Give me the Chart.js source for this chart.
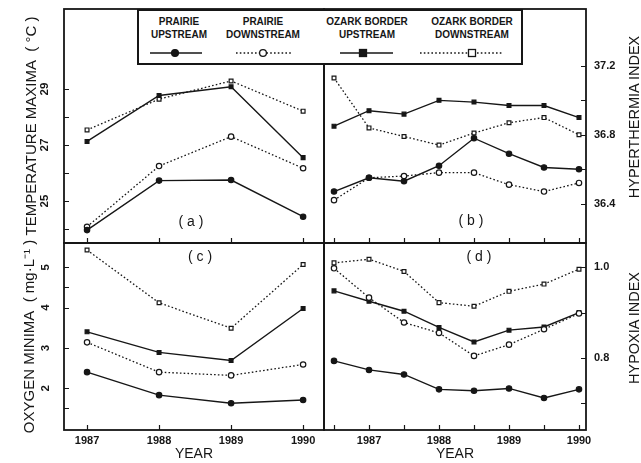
<!DOCTYPE html>
<html>
<head>
<meta charset="utf-8">
<script src="https://cdn.jsdelivr.net/npm/chart.js@4.4.1/dist/chart.umd.min.js"></script>
<style>
  body { margin: 0; background: #fff; }
  #fig { position: relative; width: 641px; height: 463px; overflow: hidden;
         font-family: "Liberation Sans", Arial, sans-serif; color: #161616; }
  #fig canvas { position: absolute; }
  .tag { position: absolute; font-size: 14px; white-space: nowrap; transform: translate(-50%, -50%); }
  .rtitle { position: absolute; font-size: 14.5px; white-space: nowrap;
            transform: translate(-50%, -50%) rotate(-90deg); }
  #legend { position: absolute; left: 137px; top: 9px; width: 386px; height: 56px; box-sizing: border-box;
            border: 2px solid #161616; background: #fff; z-index: 2; }
  #legend .name { position: absolute; font-size: 10px; font-weight: bold; line-height: 13px;
                  text-align: center; white-space: nowrap; transform: translateX(-50%); }
  #legend svg { position: absolute; left: -2px; top: -2px; }
</style>
</head>
<body>
<div id="fig">
  <canvas id="chart-a" width="330" height="250" style="left:0;top:0"></canvas>
  <canvas id="chart-b" width="323" height="250" style="left:318px;top:0"></canvas>
  <canvas id="chart-c" width="330" height="226" style="left:0;top:237px"></canvas>
  <canvas id="chart-d" width="323" height="226" style="left:318px;top:237px"></canvas>
  <div id="legend"></div>
  <div class="tag" style="left:191px;top:221px">( a )</div>
  <div class="tag" style="left:471px;top:220px">( b )</div>
  <div class="tag" style="left:200px;top:256px">( c )</div>
  <div class="tag" style="left:479px;top:256px">( d )</div>
  <div class="rtitle" style="left:634px;top:117px">HYPERTHERMIA INDEX</div>
  <div class="rtitle" style="left:634px;top:328px">HYPOXIA INDEX</div>
</div>
<script>
// Stream temperature / oxygen figure - 4 panels drawn as 4 small charts

const INK = '#161616';
const FONT = '"Liberation Sans", Arial, sans-serif';

const yearsAnnual = [1987, 1988, 1989, 1990];
const yearsHalf = [1986.5, 1987, 1987.5, 1988, 1988.5, 1989, 1989.5, 1990];
const yearLabels = [1987, 1988, 1989, 1990];

// (a) temperature maxima, deg C
const tempPrairieUp = [23.96, 25.73, 25.75, 24.44];
const tempPrairieDown = [24.08, 26.25, 27.30, 26.17];
const tempOzarkUp = [27.13, 28.77, 29.08, 26.55];
const tempOzarkDown = [27.54, 28.64, 29.29, 28.21];

// (b) hyperthermia index
const hyperPrairieUp = [36.47, 36.55, 36.53, 36.62, 36.78, 36.69, 36.61, 36.60];
const hyperPrairieDown = [36.42, 36.55, 36.56, 36.58, 36.58, 36.51, 36.47, 36.52];
const hyperOzarkUp = [36.85, 36.94, 36.92, 37.00, 36.99, 36.97, 36.97, 36.90];
const hyperOzarkDown = [37.13, 36.84, 36.79, 36.74, 36.81, 36.87, 36.90, 36.80];

// (c) oxygen minima, mg/L
const oxyPrairieUp = [2.40, 1.83, 1.63, 1.71];
const oxyPrairieDown = [3.14, 2.40, 2.32, 2.59];
const oxyOzarkUp = [3.40, 2.89, 2.69, 3.98];
const oxyOzarkDown = [5.43, 4.12, 3.49, 5.07];

// (d) hypoxia index
const hypoPrairieUp = [0.793, 0.773, 0.763, 0.730, 0.727, 0.732, 0.711, 0.730];
const hypoPrairieDown = [0.998, 0.933, 0.878, 0.855, 0.804, 0.829, 0.863, 0.898];
const hypoOzarkUp = [0.948, 0.925, 0.903, 0.867, 0.835, 0.861, 0.868, 0.900];
const hypoOzarkDown = [1.010, 1.018, 0.991, 0.922, 0.914, 0.947, 0.963, 0.996];

// axis ticks (marks) and the ones that carry a label
const tempTicks = [24, 25, 26, 27, 28, 29];
const tempLabels = [25, 27, 29];
const hyperTicks = [36.4, 36.6, 36.8, 37.0, 37.2];
const hyperLabels = [36.4, 36.8, 37.2];
const oxyTicks = [1.5, 2, 3, 4, 4.5, 5];
const oxyLabels = [2, 3, 4, 5];
const hypoTicks = [0.7, 0.8, 0.9, 1.0];
const hypoLabels = [0.8, 1.0];

const seriesNames = ['PRAIRIE UPSTREAM', 'PRAIRIE DOWNSTREAM', 'OZARK BORDER UPSTREAM', 'OZARK BORDER DOWNSTREAM'];
const seriesLines = [
    { dotted: false, square: false, open: false },
    { dotted: true,  square: false, open: true },
    { dotted: false, square: true,  open: false },
    { dotted: true,  square: true,  open: true }
];

// frame, inward tick marks, and the sideways labels of the left axes
const framePlugin = {
    id: 'frame',
    afterDraw(chart, args, o) {
        const { ctx, chartArea: a, scales } = chart;
        const ys = scales.y;
        ctx.save();
        ctx.strokeStyle = INK;
        ctx.lineWidth = 1.8;
        ctx.strokeRect(a.left, a.top, a.right - a.left, a.bottom - a.top);
        ctx.lineWidth = 1.2;
        ctx.beginPath();
        o.xTicks.forEach(v => {
            const px = Math.round(scales.x.getPixelForValue(v)) + 0.5;
            ctx.moveTo(px, a.bottom);
            ctx.lineTo(px, a.bottom - 5);
        });
        const edge = ys.position === 'right' ? a.right : a.left;
        const dir = ys.position === 'right' ? -1 : 1;
        ys.ticks.forEach(t => {
            const py = Math.round(ys.getPixelForValue(t.value)) + 0.5;
            ctx.moveTo(edge, py);
            ctx.lineTo(edge + dir * 5, py);
        });
        ctx.stroke();

        if (o.sideLabels) {
            ctx.fillStyle = INK;
            ctx.font = 'bold 11.5px ' + FONT;
            ctx.textAlign = 'center';
            ctx.textBaseline = 'middle';
            o.sideLabels.forEach(v => {
                ctx.save();
                ctx.translate(o.labelX, ys.getPixelForValue(v));
                ctx.rotate(-Math.PI / 2);
                ctx.fillText(String(v), 0, 0);
                ctx.restore();
            });
        }
        ctx.restore();
    }
};

function makeDatasets(xs, cols) {
    return cols.map((ys, i) => {
        const s = seriesLines[i];
        return {
            label: seriesNames[i],
            data: xs.map((x, j) => ({ x, y: ys[j] })),
            borderColor: INK,
            borderWidth: s.dotted ? 1.3 : 1.4,
            borderDash: s.dotted ? [1.6, 2.2] : [],
            pointStyle: s.square ? 'rect' : 'circle',
            pointRadius: 2.7,
            pointBackgroundColor: s.open ? '#fff' : INK,
            pointBorderColor: INK,
            pointBorderWidth: 1.2,
            tension: 0,
            clip: false
        };
    });
}

function tickSetter(vals) {
    return scale => { scale.ticks = vals.map(v => ({ value: v })); };
}

function makePanel(id, p) {
    const tickFont = { family: FONT, size: 11, weight: 'bold' };
    const left = p.yPos === 'left';
    const fmt = p.fmt || (v => String(v));
    return new Chart(document.getElementById(id), {
        type: 'line',
        data: { datasets: makeDatasets(p.xs, p.series) },
        options: {
            responsive: false,
            animation: false,
            events: [],
            layout: { padding: p.padding },
            plugins: {
                legend: { display: false },
                tooltip: { enabled: false },
                frame: { xTicks: p.xs, sideLabels: left ? p.yLabels : null, labelX: p.labelX }
            },
            scales: {
                x: {
                    type: 'linear', min: p.xMin, max: p.xMax,
                    display: p.showX,
                    grid: { display: false, drawTicks: false },
                    border: { display: false },
                    afterBuildTicks: tickSetter(p.xs),
                    afterFit: s => {
                        s.height = p.showX ? 33 : 0;
                        s.paddingLeft = 0; s.paddingRight = 0;
                    },
                    ticks: {
                        autoSkip: false, maxRotation: 0, minRotation: 0, padding: 4,
                        color: INK, font: tickFont,
                        callback: v => yearLabels.includes(v) ? String(v) : ''
                    },
                    title: { display: true, text: 'YEAR', color: INK, padding: { top: 0, bottom: 0 },
                             font: { family: FONT, size: 14 } }
                },
                y: {
                    type: 'linear', position: p.yPos, min: p.yMin, max: p.yMax,
                    grid: { display: false, drawTicks: false },
                    border: { display: false },
                    afterBuildTicks: tickSetter(p.yTicks),
                    afterFit: s => {
                        s.width = left ? 64 : 55;
                        s.paddingTop = 0; s.paddingBottom = 0;
                    },
                    ticks: {
                        display: !left,
                        padding: 8,
                        color: INK, font: tickFont,
                        callback: v => p.yLabels.includes(v) ? fmt(v) : ''
                    },
                    title: { display: !!p.yTitle, text: p.yTitle || '', color: INK,
                             font: { family: FONT, size: 15 },
                             padding: { top: p.titlePad || 0, bottom: 0 } }
                }
            }
        },
        plugins: [framePlugin]
    });
}

function buildLegend() {
    const box = document.getElementById('legend');
    const centers = [42, 126, 230, 335];
    const samples = [[13, 65, 38], [99, 156, 126], [203, 256, 226], [283, 366, 335]];
    let svg = '<svg width="386" height="56" xmlns="http://www.w3.org/2000/svg">';
    seriesNames.forEach((name, i) => {
        const words = name.split(' ');
        const el = document.createElement('div');
        el.className = 'name';
        el.style.left = (centers[i] - 2) + 'px';
        el.style.top = '4px';
        el.innerHTML = words.slice(0, -1).join(' ') + '<br>' + words[words.length - 1];
        box.appendChild(el);

        const s = seriesLines[i];
        const [x0, x1, mx] = samples[i];
        const dash = s.dotted ? ' stroke-dasharray="1.6 2.2"' : '';
        svg += `<line x1="${x0}" y1="44" x2="${x1}" y2="44" stroke="${INK}" stroke-width="1.4"${dash}/>`;
        const fill = s.open ? '#fff' : INK;
        if (s.square) {
            svg += `<rect x="${mx - 3.5}" y="40.5" width="7" height="7" fill="${fill}" stroke="${INK}" stroke-width="1.3"/>`;
        } else {
            svg += `<circle cx="${mx}" cy="44" r="3.4" fill="${fill}" stroke="${INK}" stroke-width="1.3"/>`;
        }
    });
    svg += '</svg>';
    box.insertAdjacentHTML('beforeend', svg);
}

makePanel('chart-a', {
    xs: yearsAnnual, xMin: 1986.68, xMax: 1990.29, showX: false,
    series: [tempPrairieUp, tempPrairieDown, tempOzarkUp, tempOzarkDown],
    yPos: 'left', yMin: 23.5, yMax: 31.86, yTicks: tempTicks, yLabels: tempLabels, labelX: 45,
    yTitle: 'TEMPERATURE MAXIMA  ( °C )', titlePad: 23,
    padding: { left: 0, top: 9, right: 6, bottom: 7 }
});

makePanel('chart-b', {
    xs: yearsHalf, xMin: 1986.357, xMax: 1990.1, showX: false,
    series: [hyperPrairieUp, hyperPrairieDown, hyperOzarkUp, hyperOzarkDown],
    yPos: 'right', yMin: 36.171, yMax: 37.531, yTicks: hyperTicks, yLabels: hyperLabels, fmt: v => v.toFixed(1),
    padding: { left: 6, top: 9, right: 0, bottom: 7 }
});

makePanel('chart-c', {
    xs: yearsAnnual, xMin: 1986.68, xMax: 1990.29, showX: true,
    series: [oxyPrairieUp, oxyPrairieDown, oxyOzarkUp, oxyOzarkDown],
    yPos: 'left', yMin: 0.966, yMax: 5.603, yTicks: oxyTicks, yLabels: oxyLabels, labelX: 46,
    yTitle: 'OXYGEN MINIMA  ( mg·L⁻¹ )', titlePad: 21,
    padding: { left: 0, top: 6, right: 6, bottom: 0 }
});

makePanel('chart-d', {
    xs: yearsHalf, xMin: 1986.357, xMax: 1990.1, showX: true,
    series: [hypoPrairieUp, hypoPrairieDown, hypoOzarkUp, hypoOzarkDown],
    yPos: 'right', yMin: 0.640, yMax: 1.054, yTicks: hypoTicks, yLabels: hypoLabels, fmt: v => v.toFixed(1),
    padding: { left: 6, top: 6, right: 0, bottom: 0 }
});

buildLegend();
</script>
</body>
</html>
